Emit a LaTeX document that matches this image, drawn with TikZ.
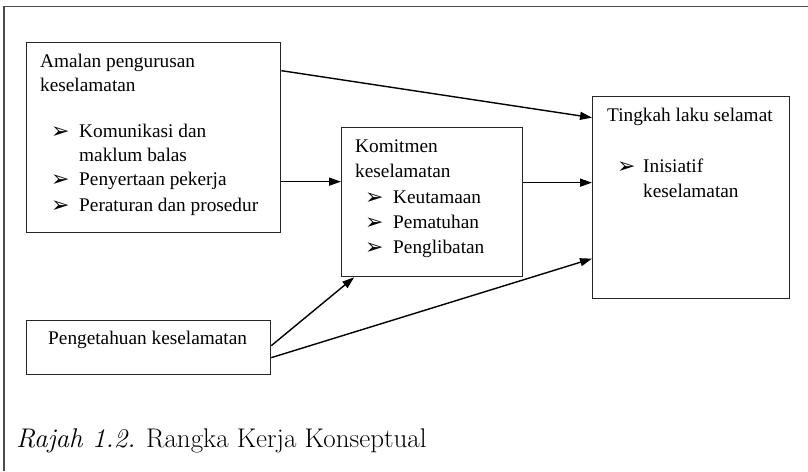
\documentclass[tikz,border=0pt]{standalone}
\usepackage{fontspec}
\usetikzlibrary{arrows.meta}
\newfontfamily\tnr{Liberation Serif}
\newfontfamily\dingfont{DejaVu Sans}
\newcommand{\bul}{{\dingfont\fontsize{22}{22}\selectfont ➢}}
\tikzset{
  box/.style={draw=black!85, line width=1.3pt, rectangle, anchor=north west, inner sep=0pt},
  txt/.style={anchor=base west, inner sep=0pt, font=\tnr\fontsize{19.3}{25}\selectfont},
  bulmark/.style={anchor=base west, inner sep=0pt},
  arr/.style={line width=1.4pt, -{Triangle[length=12pt,width=8pt]}},
  frame/.style={draw=black!70, line width=1.4pt}
}
\begin{document}
\begin{tikzpicture}[x=1pt,y=-1pt]
\useasboundingbox (0,0) rectangle (808,471);
% outer frame (top and left only)
\coordinate (f1) at (4,471);
\coordinate (f2) at (4,6.5);
\coordinate (f3) at (808,6.5);
\draw[frame] (f1) -- (f2) -- (f3);
% boxes
\node[box, minimum width=254pt, minimum height=190pt] (A) at (26,42) {};
\node[box, minimum width=181pt, minimum height=149pt] (K) at (341,127) {};
\node[box, minimum width=197pt, minimum height=202pt] (T) at (592,96) {};
\node[box, minimum width=244pt, minimum height=54pt] (P) at (26,320) {};
% box A text
\node[txt] (a1) at (40,67) {Amalan pengurusan};
\node[txt] (a2) at (40,91) {keselamatan};
\node[bulmark] (ab1) at (51,138) {\bul};
\node[txt] (a3) at (79,137) {Komunikasi dan};
\node[txt] (a4) at (79,161) {maklum balas};
\node[bulmark] (ab2) at (51,186) {\bul};
\node[txt] (a5) at (79,185) {Penyertaan pekerja};
\node[bulmark] (ab3) at (51,212) {\bul};
\node[txt] (a6) at (79,211) {Peraturan dan prosedur};
% box K text
\node[txt] (k1) at (355,152) {Komitmen};
\node[txt] (k2) at (355,177) {keselamatan};
\node[bulmark] (kb1) at (365,204) {\bul};
\node[txt] (k3) at (393,203) {Keutamaan};
\node[bulmark] (kb2) at (365,229) {\bul};
\node[txt] (k4) at (393,228) {Pematuhan};
\node[bulmark] (kb3) at (365,254) {\bul};
\node[txt] (k5) at (393,253) {Penglibatan};
% box T text
\node[txt] (t1) at (607,121) {Tingkah laku selamat};
\node[bulmark] (tb1) at (617,173) {\bul};
\node[txt] (t2) at (643,172) {Inisiatif};
\node[txt] (t3) at (643,197) {keselamatan};
% box P text
\node[txt] (p1) at (48,344) {Pengetahuan keselamatan};
% caption
\node[anchor=base west, inner sep=0pt, font=\fontsize{27}{32}\selectfont] (cap) at (16,447) {\textit{Rajah 1.2.} Rangka Kerja Konseptual};
% connectors
\draw[arr] ([yshift=67pt]A.east) -- ([yshift=80pt]T.west);
\draw[arr] ([yshift=-44pt]A.east) -- ([yshift=-44pt]A.east -| K.west);
\draw[arr] ([yshift=19.5pt]K.east) -- ([yshift=19.5pt]K.east -| T.west);
\draw[arr] ([yshift=2pt]P.east) -- ([xshift=-78pt]K.south);
\draw[arr] ([yshift=-10pt]P.east) -- ([yshift=-61pt]T.west);
\end{tikzpicture}
\end{document}
